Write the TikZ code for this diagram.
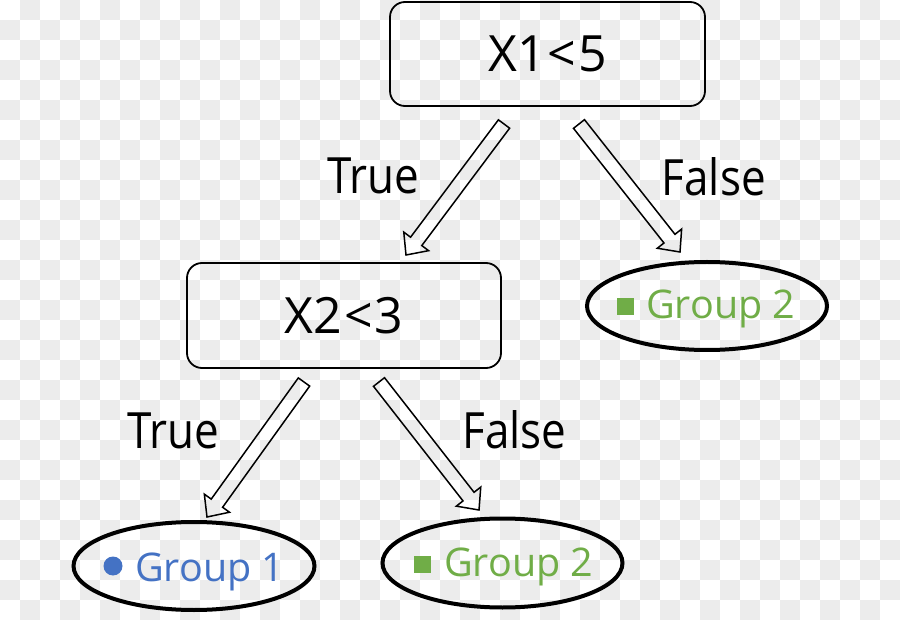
\documentclass[tikz,border=0pt]{standalone}
\usepackage{fontspec}
\setmainfont{Open Sans}
\newfontfamily\labelfont[FakeStretch=0.88]{Open Sans}
\usetikzlibrary{calc,shapes.geometric}
\definecolor{checkgray}{RGB}{236,236,236}
\definecolor{grpblue}{RGB}{68,114,196}
\definecolor{grpgreen}{RGB}{112,173,71}
\tikzset{
  decision/.style={draw=black, line width=1.8pt, rounded corners=15pt, minimum width=315pt, minimum height=104pt, inner sep=0pt, font=\fontsize{50}{60}\selectfont},
  leaf/.style={draw=black, ellipse, line width=4pt, minimum width=240pt, minimum height=88pt, inner sep=0pt},
  edgelabel/.style={anchor=base, inner sep=0pt, font=\labelfont\fontsize{50}{60}\selectfont},
  grouplabel/.style={anchor=base west, inner sep=0pt, font=\fontsize{39.5}{46}\selectfont},
  arrowline/.style={draw=black, line width=1.5pt, line join=miter},
}
\newcommand\blockarrow[2]{%
  \path ($(#2)!17pt!(#1)$) coordinate (ba-b);
  \draw[arrowline] ($(#1)!7pt!90:(#2)$) -- ($(ba-b)!7pt!90:(#2)$) -- ($(ba-b)!15.5pt!90:(#2)$) -- (#2) -- ($(ba-b)!15.5pt!-90:(#2)$) -- ($(ba-b)!7pt!-90:(#2)$) -- ($(#1)!7pt!-90:(#2)$) -- cycle;
}
\begin{document}
\begin{tikzpicture}[x=1pt,y=-1pt]
\useasboundingbox (0,0) rectangle (900,620);
% checkerboard background
\fill[white] (0,0) rectangle (900,620);
\foreach \j in {0,2,...,30} {\foreach \i in {1,3,...,43} {\fill[checkgray] (20*\i,20*\j) rectangle ++(20,20);}}
\foreach \j in {1,3,...,29} {\foreach \i in {0,2,...,44} {\fill[checkgray] (20*\i,20*\j) rectangle ++(20,20);}}
% decision boxes
\node[decision] (root) at (547.5,54) {X1\hspace{2pt}<\hspace{2pt}5};
\node[decision, minimum width=314pt, minimum height=105pt] (split) at (344,315.5) {X2\hspace{2pt}<\hspace{2pt}3};
% leaves
\node[leaf] (leafA) at (707,306) {};
\node[leaf, minimum width=241pt] (leafB) at (194,566) {};
\node[leaf, minimum width=240pt, minimum height=89pt] (leafC) at (502.5,563) {};
% leaf labels
\fill[grpgreen] (616.5,298) rectangle (633.5,315);
\node[grouplabel, text=grpgreen] (tA) at (646,318.3) {Group 2};
\fill[grpblue] (113,566) circle (9.5pt);
\node[grouplabel, text=grpblue] (tB) at (135,581) {Group 1};
\fill[grpgreen] (413.5,555.5) rectangle (430.5,572.5);
\node[grouplabel, text=grpgreen] (tC) at (444,576) {Group 2};
% arrow end points
\coordinate (a1t) at (504,124); \coordinate (a1p) at (406,255);
\coordinate (a2t) at (579,124); \coordinate (a2p) at (680,252);
\coordinate (a3t) at (304,382); \coordinate (a3p) at (207,517);
\coordinate (a4t) at (379,382); \coordinate (a4p) at (479,510);
\blockarrow{a1t}{a1p}
\blockarrow{a2t}{a2p}
\blockarrow{a3t}{a3p}
\blockarrow{a4t}{a4p}
% edge labels
\node[edgelabel] (l1) at (373.3,194) {True};
\node[edgelabel] (l2) at (713.8,196) {False};
\node[edgelabel] (l3) at (173.5,448) {True};
\node[edgelabel] (l4) at (514.5,448.3) {False};
\end{tikzpicture}
\end{document}
